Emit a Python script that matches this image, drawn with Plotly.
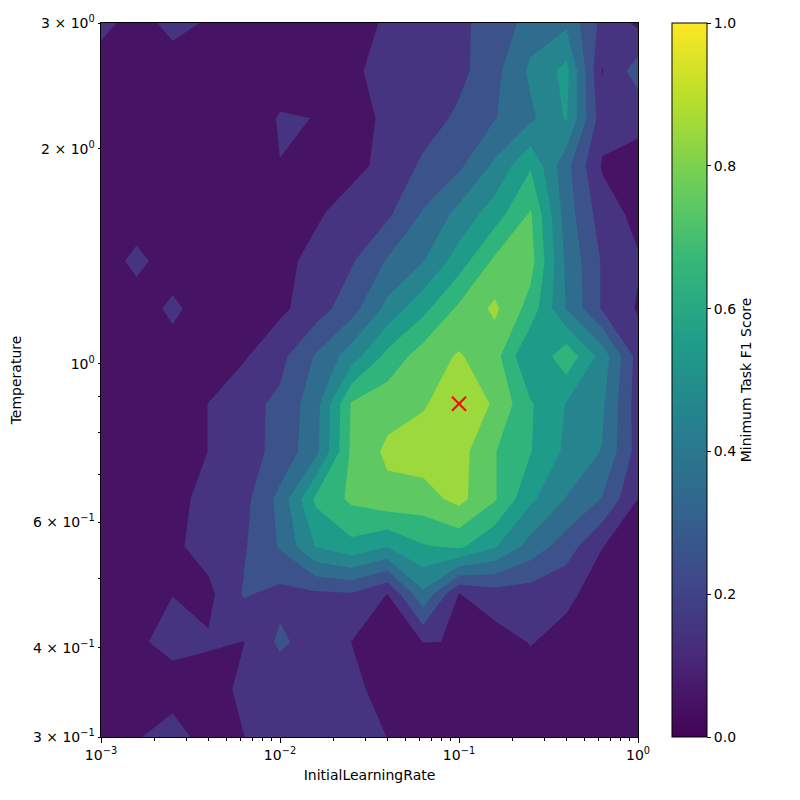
import plotly.graph_objects as go

# grid of the hyperparameter sweep (log spaced)
learning_rates = [0.001, 0.001585, 0.002512, 0.003981, 0.00631, 0.01, 0.01585, 0.02512,
                  0.03981, 0.0631, 0.1, 0.1585, 0.2512, 0.3981, 0.631, 1.0]
temperatures = [0.3, 0.3498, 0.4078, 0.4755, 0.5544, 0.6463, 0.7536, 0.8786,
                1.0244, 1.1943, 1.3925, 1.6235, 1.8928, 2.2069, 2.5730, 3.0]

# minimum task F1 score, one row per temperature (lowest temperature first)
f1_rows = [
    [0.04, 0.095, 0.13, 0.07, 0.099, 0.15, 0.16, 0.14, 0.099, 0.06, 0.05, 0.04, 0.04, 0.04, 0.04, 0.04],
    [0.04, 0.05, 0.07, 0.06, 0.12, 0.13, 0.15, 0.12, 0.07, 0.05, 0.04, 0.04, 0.05, 0.04, 0.04, 0.04],
    [0.04, 0.09, 0.12, 0.11, 0.099, 0.22, 0.15, 0.099, 0.06, 0.101, 0.099, 0.06, 0.105, 0.07, 0.05, 0.04],
    [0.04, 0.05, 0.099, 0.075, 0.21, 0.17, 0.18, 0.19, 0.098, 0.38, 0.097, 0.15, 0.15, 0.12, 0.06, 0.04],
    [0.03, 0.05, 0.08, 0.14, 0.19, 0.31, 0.505, 0.57, 0.505, 0.59, 0.62, 0.51, 0.36, 0.25, 0.102, 0.06],
    [0.04, 0.05, 0.06, 0.14, 0.17, 0.33, 0.62, 0.72, 0.77, 0.76, 0.83, 0.71, 0.52, 0.395, 0.295, 0.099],
    [0.05, 0.05, 0.05, 0.101, 0.16, 0.23, 0.37, 0.72, 0.82, 0.85, 0.84, 0.705, 0.605, 0.48, 0.395, 0.16],
    [0.05, 0.05, 0.06, 0.101, 0.17, 0.22, 0.36, 0.71, 0.76, 0.79, 0.86, 0.79, 0.61, 0.495, 0.42, 0.15],
    [0.05, 0.05, 0.06, 0.06, 0.09, 0.17, 0.31, 0.45, 0.63, 0.75, 0.81, 0.74, 0.497, 0.67, 0.46, 0.16],
    [0.05, 0.05, 0.12, 0.05, 0.06, 0.08, 0.15, 0.26, 0.43, 0.57, 0.72, 0.82, 0.66, 0.395, 0.19, 0.09],
    [0.05, 0.125, 0.05, 0.05, 0.06, 0.08, 0.12, 0.19, 0.31, 0.395, 0.55, 0.72, 0.74, 0.38, 0.19, 0.11],
    [0.05, 0.05, 0.05, 0.05, 0.06, 0.07, 0.09, 0.13, 0.18, 0.31, 0.43, 0.55, 0.71, 0.35, 0.15, 0.07],
    [0.05, 0.05, 0.04, 0.05, 0.06, 0.099, 0.07, 0.08, 0.12, 0.22, 0.28, 0.42, 0.59, 0.33, 0.09, 0.06],
    [0.05, 0.04, 0.04, 0.05, 0.06, 0.105, 0.099, 0.08, 0.11, 0.15, 0.22, 0.295, 0.38, 0.51, 0.14, 0.13],
    [0.05, 0.04, 0.05, 0.05, 0.06, 0.07, 0.07, 0.08, 0.14, 0.15, 0.17, 0.27, 0.42, 0.53, 0.095, 0.25],
    [0.13, 0.06, 0.13, 0.09, 0.05, 0.05, 0.05, 0.07, 0.11, 0.15, 0.19, 0.22, 0.35, 0.38, 0.17, 0.08],
]

best_lr = [0.1]
best_temp = [0.8786]

# viridis sampled at the middle of each 0.1 band (as matplotlib contourf does)
band_colors = ['#471365', '#463480', '#3b528b', '#2f6c8e', '#25848e',
               '#1e9c89', '#2fb47c', '#5ec962', '#9bd93c', '#dfe318']

# plotly maps band i to colorscale position (i + 1) / 11 -> build a step scale
n = 11
step_scale = []
for i, c in enumerate(band_colors):
    lo = 0.0 if i == 0 else (i + 0.5) / n
    hi = 1.0 if i == len(band_colors) - 1 else (i + 1.5) / n
    step_scale.append([lo, c])
    step_scale.append([hi, c])

font = dict(family='DejaVu Sans, sans-serif', size=14, color='black')

fig = go.Figure()

fig.add_trace(go.Contour(
    x=learning_rates, y=temperatures, z=f1_rows,
    contours=dict(start=0, end=1, size=0.1, coloring='fill', showlines=False),
    line=dict(width=0, smoothing=0),
    colorscale=step_scale,
    showscale=False,
    hoverinfo='skip',
))

fig.add_trace(go.Scatter(
    x=best_lr, y=best_temp, mode='markers',
    marker=dict(symbol='x-thin', size=14, line=dict(color='red', width=2), color='red'),
    showlegend=False,
))

# continuous colorbar like the reference
fig.add_trace(go.Scatter(
    x=[None], y=[None], mode='markers',
    marker=dict(
        size=0, color=[0], colorscale='Viridis', cmin=0, cmax=1, showscale=True,
        colorbar=dict(
            x=1.0633, xanchor='left', xpad=0, y=0.5, yanchor='middle', ypad=0,
            len=1, lenmode='fraction', thickness=35, thicknessmode='pixels',
            outlinewidth=1, outlinecolor='black',
            ticks='outside', ticklen=4, tickcolor='black',
            tickvals=[0, 0.2, 0.4, 0.6, 0.8, 1.0],
            ticktext=['0.0', '0.2', '0.4', '0.6', '0.8', '1.0'],
            tickfont=font,
            title=dict(text='Minimum Task F1 Score', side='right', font=font),
        ),
    ),
    showlegend=False, hoverinfo='skip',
))

x_major = [0.001, 0.01, 0.1, 1]
x_minor = [m * 10 ** e for e in (-3, -2, -1) for m in range(2, 10)]

fig.update_xaxes(
    type='log', range=[-3, 0], automargin=False,
    tickvals=x_major,
    ticktext=['10<sup>\u22123</sup>', '10<sup>\u22122</sup>', '10<sup>\u22121</sup>', '10<sup>0</sup>'],
    ticks='outside', ticklen=5, tickcolor='black', tickfont=font,
    minor=dict(tickvals=x_minor, ticks='outside', ticklen=2.5, tickcolor='black'),
    showline=True, linecolor='black', linewidth=1, mirror=True,
    showgrid=False, zeroline=False,
    title=dict(text='InitialLearningRate', font=font, standoff=8),
)

fig.update_yaxes(
    type='log', range=[-0.52288, 0.47712], automargin=False,
    tickvals=[0.3, 0.4, 0.6, 1, 2, 3],
    ticktext=['3 \u00d7 10<sup>\u22121</sup>', '4 \u00d7 10<sup>\u22121</sup>', '6 \u00d7 10<sup>\u22121</sup>',
              '10<sup>0</sup>', '2 \u00d7 10<sup>0</sup>', '3 \u00d7 10<sup>0</sup>'],
    ticks='outside', ticklen=2.5, tickcolor='black', tickfont=font,
    minor=dict(tickvals=[0.5, 0.7, 0.8, 0.9], ticks='outside', ticklen=2.5, tickcolor='black'),
    showline=True, linecolor='black', linewidth=1, mirror=True,
    showgrid=False, zeroline=False,
    title=dict(text='Temperature', font=font, standoff=10),
)

# the page adds an 8px body margin, so the figure is 792 wide and the margins are shifted
fig.update_layout(
    width=792, height=792,
    margin=dict(l=93, r=162, t=15, b=63),
    paper_bgcolor='white', plot_bgcolor='white',
    font=font,
    showlegend=False,
)

fig.write_html('out.html')
